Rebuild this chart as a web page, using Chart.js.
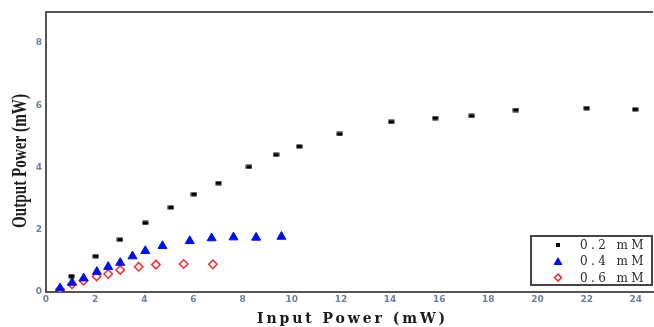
<!DOCTYPE html>
<html><head><meta charset="utf-8">
<script src="https://cdn.jsdelivr.net/npm/chart.js@4/dist/chart.umd.min.js"></script>
<style>html,body{margin:0;padding:0;background:#fff;overflow:hidden}</style>
</head><body>
<canvas id="c" width="654" height="327"></canvas>
<script>
const seriesLabels = ['0.2 mM', '0.4 mM', '0.6 mM'];
const x02 = [1.04, 2.02, 3.01, 4.04, 5.08, 6.02, 7.02, 8.26, 9.36, 10.31, 11.95, 14.05, 15.84, 17.32, 19.12, 22.0, 23.98];
const y02 = [0.51, 1.15, 1.68, 2.22, 2.72, 3.14, 3.50, 4.02, 4.41, 4.68, 5.08, 5.47, 5.59, 5.66, 5.85, 5.91, 5.87];
const x04 = [0.57, 1.06, 1.53, 2.07, 2.53, 3.02, 3.52, 4.04, 4.74, 5.85, 6.74, 7.63, 8.55, 9.58];
const y04 = [0.12, 0.30, 0.44, 0.65, 0.81, 0.94, 1.15, 1.32, 1.48, 1.64, 1.73, 1.76, 1.75, 1.78];
const x06 = [0.57, 1.06, 1.53, 2.06, 2.53, 3.02, 3.77, 4.47, 5.60, 6.79];
const y06 = [0.09, 0.25, 0.36, 0.50, 0.58, 0.71, 0.81, 0.88, 0.90, 0.89];
const xTicks = [0, 2, 4, 6, 8, 10, 12, 14, 16, 18, 20, 22, 24];
const yTicks = [0, 2, 4, 6, 8];
const xTitle = 'Input Power (mW)';
const yTitle = 'Output Power (mW)';

const pts = (xs, ys) => xs.map((x, i) => ({x: x, y: ys[i]}));

// small black rectangle marker
const sq = document.createElement('canvas');
sq.width = 7; sq.height = 5;
(function(){ const g = sq.getContext('2d'); g.fillStyle = '#000'; g.fillRect(0.5, 0.5, 6, 4); })();

const tickColor = '#6f7d9c';
const tickFont = {family: '"DejaVu Sans", sans-serif', size: 9, weight: 'bold'};

function fitText(ctx, text, x, y, width) {
  ctx.save();
  ctx.letterSpacing = '0px';
  const w = ctx.measureText(text).width;
  const ls = Math.max(0, (width - w) / text.length);
  ctx.letterSpacing = ls.toFixed(2) + 'px';
  ctx.textAlign = 'left';
  ctx.fillText(text, x, y);
  ctx.restore();
}

const deco = {
  id: 'deco',
  afterDraw(chart) {
    const ctx = chart.ctx;
    const a = chart.chartArea;
    ctx.save();
    // top frame line
    ctx.strokeStyle = '#555';
    ctx.lineWidth = 2;
    ctx.beginPath();
    ctx.moveTo(a.left - 1, a.top);
    ctx.lineTo(653, a.top);
    ctx.stroke();

    // x title
    ctx.fillStyle = '#1a1a1a';
    ctx.font = 'bold 14px "DejaVu Serif", serif';
    ctx.textBaseline = 'middle';
    fitText(ctx, xTitle, 257, 319, 191);

    // y title (rotated, horizontally condensed)
    ctx.save();
    ctx.translate(21, 161);
    ctx.rotate(-Math.PI / 2);
    ctx.font = 'bold 20px "Liberation Serif", "Times New Roman", serif';
    ctx.letterSpacing = '0px';
    const tw = ctx.measureText(yTitle).width;
    ctx.scale(134 / tw, 1);
    ctx.textAlign = 'center';
    ctx.textBaseline = 'middle';
    ctx.fillText(yTitle, 0, 0);
    ctx.restore();

    // legend box
    ctx.strokeStyle = '#444';
    ctx.lineWidth = 2;
    ctx.fillStyle = '#fff';
    ctx.fillRect(531, 236, 121, 49);
    ctx.strokeRect(531, 236, 121, 49);
    ctx.textBaseline = 'middle';
    chart.data.datasets.forEach((ds, i) => {
      const cy = 245 + 16.3 * i;
      if (i === 0) {
        ctx.fillStyle = '#000';
        ctx.fillRect(556, cy - 2, 4, 4);
      } else {
        ctx.fillStyle = ds.backgroundColor;
        ctx.strokeStyle = ds.borderColor;
        ctx.lineWidth = ds.borderWidth;
        Chart.helpers.drawPoint(ctx, {
          pointStyle: ds.pointStyle,
          radius: i === 1 ? 4.5 : 3.5,
          borderWidth: ds.borderWidth,
          rotation: 0
        }, 558, cy + (i === 1 ? 1 : 0));
      }
      ctx.fillStyle = '#2a2a35';
      ctx.font = '12px "DejaVu Serif", serif';
      fitText(ctx, ds.label, 580, cy + 1, 67);
    });
    ctx.restore();
  }
};

new Chart(document.getElementById('c'), {
  type: 'scatter',
  data: {
    datasets: [
      {label: seriesLabels[0], data: pts(x02, y02), pointStyle: sq, radius: 3, backgroundColor: '#000', borderColor: '#000', borderWidth: 0},
      {label: seriesLabels[1], data: pts(x04, y04), pointStyle: 'triangle', radius: 5.2, backgroundColor: '#0010f0', borderColor: '#0010f0', borderWidth: 1},
      {label: seriesLabels[2], data: pts(x06, y06), pointStyle: 'rectRot', radius: 4.2, backgroundColor: '#ffffff', borderColor: '#ff2a2a', borderWidth: 1.5}
    ]
  },
  options: {
    responsive: false,
    animation: false,
    devicePixelRatio: 1,
    layout: {autoPadding: false, padding: {top: 12, right: 1, left: 0, bottom: 0}},
    plugins: {legend: {display: false}, tooltip: {enabled: false}},
    scales: {
      x: {
        type: 'linear', min: 0, max: 24.7,
        afterBuildTicks: s => { s.ticks = xTicks.map(v => ({value: v})); },
        afterFit: s => { s.height = 35; s.paddingRight = 0; s.paddingLeft = 0; },
        grid: {display: false, drawTicks: false},
        border: {display: true, color: '#555', width: 2},
        ticks: {color: tickColor, font: tickFont, padding: 2, maxRotation: 0, autoSkip: false}
      },
      y: {
        type: 'linear', min: 0, max: 9,
        afterBuildTicks: s => { s.ticks = yTicks.map(v => ({value: v})); },
        afterFit: s => { s.width = 46; s.paddingTop = 0; s.paddingBottom = 0; },
        grid: {display: false, drawTicks: false},
        border: {display: true, color: '#555', width: 2},
        ticks: {color: tickColor, font: tickFont, padding: 4}
      }
    }
  },
  plugins: [deco]
});
</script>
</body></html>
